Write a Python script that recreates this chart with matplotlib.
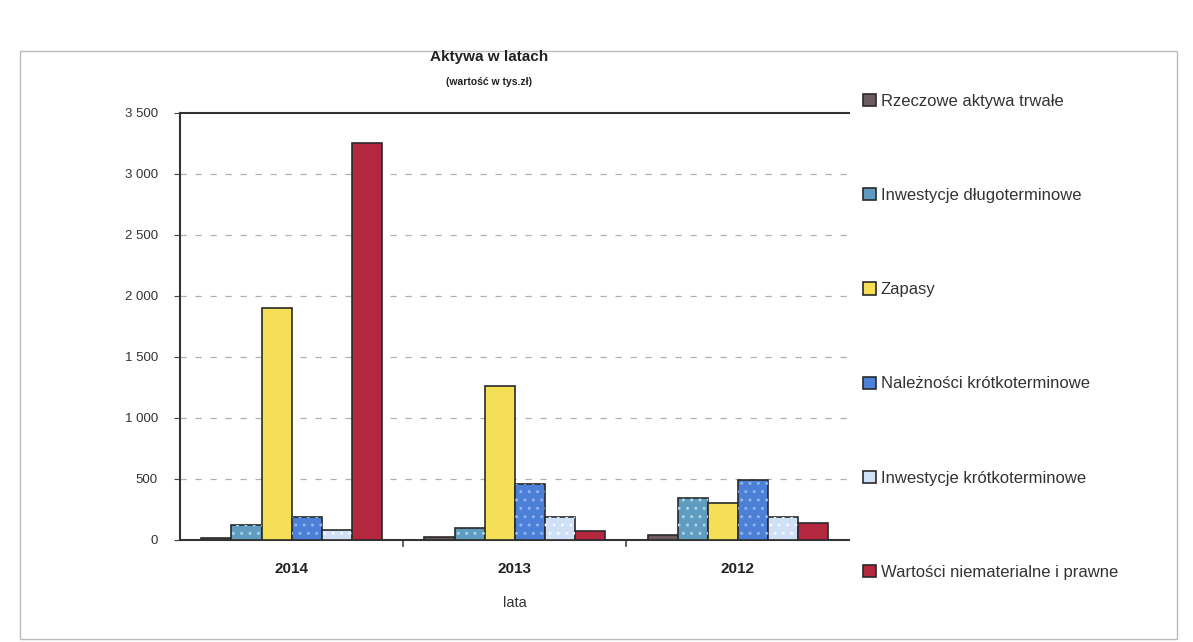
import matplotlib
matplotlib.use("Agg")
import matplotlib.pyplot as plt
import numpy as np
from matplotlib.patches import Rectangle

plt.rcParams['font.family'] = ['Liberation Sans', 'DejaVu Sans']

years = ["2014", "2013", "2012"]
series_names = [
    "Rzeczowe aktywa trwałe",
    "Inwestycje długoterminowe",
    "Zapasy",
    "Należności krótkoterminowe",
    "Inwestycje krótkoterminowe",
    "Wartości niematerialne i prawne",
]
rzeczowe = [15, 20, 40]
inw_dlugo = [125, 100, 340]
zapasy = [1900, 1265, 300]
naleznosci = [190, 460, 495]
inw_krotko = [85, 190, 190]
wartosci = [3250, 70, 135]
yticks = [0, 500, 1000, 1500, 2000, 2500, 3000, 3500]
ytick_labels = ["0", "500", "1 000", "1 500", "2 000", "2 500", "3 000", "3 500"]

values = [rzeczowe, inw_dlugo, zapasy, naleznosci, inw_krotko, wartosci]
fills = ["#6b5a5e", "#5f9cc0", "#f4df56", "#4c7fd6", "#cfe0f7", "#b3283e"]
hatch_cols = ["#6b5a5e", "#a9d3e6", "#f4df56", "#8fb4ee", "#f2f7ff", "#b3283e"]
hatches = [None, "..", None, "..", "..", None]

fig = plt.figure(figsize=(11.93, 6.42), dpi=100)
fig.patch.set_facecolor("white")
ax = fig.add_axes([0.151, 0.159, 0.561, 0.665])

x = np.arange(len(years))
w = 0.135
handles = []
for i, (vals, fc, hc, h) in enumerate(zip(values, fills, hatch_cols, hatches)):
    pos = x + (i - 2.5) * w
    b = ax.bar(pos, vals, width=w, color=fc, edgecolor="#2a2a2a", linewidth=1.2, zorder=3,
               label=series_names[i])
    if h:
        ax.bar(pos, vals, width=w, color="none", edgecolor=hc, hatch=h, linewidth=0, zorder=4)
    handles.append(b)

ax.set_ylim(0, 3500)
ax.set_xlim(-0.5, 2.5)
ax.set_yticks(yticks)
ax.set_yticklabels(ytick_labels, fontsize=9.5, color="#333333")
ax.set_xticks(x)
ax.set_xticklabels(years, fontsize=11, fontweight="bold", color="#222222")
ax.tick_params(axis="x", length=0, pad=16)
ax.tick_params(axis="y", length=4, color="#444444", direction="out", pad=12)
for xb in [0.5, 1.5]:
    ax.plot([xb, xb], [0, -0.015], transform=ax.get_xaxis_transform(), color="#444444",
            lw=1.2, clip_on=False)
for yv in yticks[1:-1]:
    ax.axhline(yv, color="#b0b0b0", linestyle=(0, (5, 7)), linewidth=0.9, zorder=1)

ax.spines["right"].set_visible(False)
for s in ["top", "left", "bottom"]:
    ax.spines[s].set_color("#333333")
    ax.spines[s].set_linewidth(1.5)

ax.set_xlabel("lata", fontsize=10.5, color="#333333", labelpad=14)

fig.text(0.41, 0.905, "Aktywa w latach", ha="center", fontsize=11, fontweight="bold", color="#222222")
fig.text(0.41, 0.868, "(wartość w tys.zł)", ha="center", fontsize=7.5, fontweight="bold", color="#222222")

leg = fig.legend(handles=handles, loc="upper left", bbox_to_anchor=(0.718, 0.864),
                 frameon=False, fontsize=12, handlelength=0.75, handleheight=0.75,
                 handletextpad=0.3, labelspacing=4.75, borderaxespad=0)
for t in leg.get_texts():
    t.set_color("#333333")

fig.add_artist(Rectangle((0.017, 0.005), 0.97, 0.915, transform=fig.transFigure,
                         fill=False, edgecolor="#bbbbbb", linewidth=1.0))

fig.savefig("out.png", dpi=100, facecolor="white")
